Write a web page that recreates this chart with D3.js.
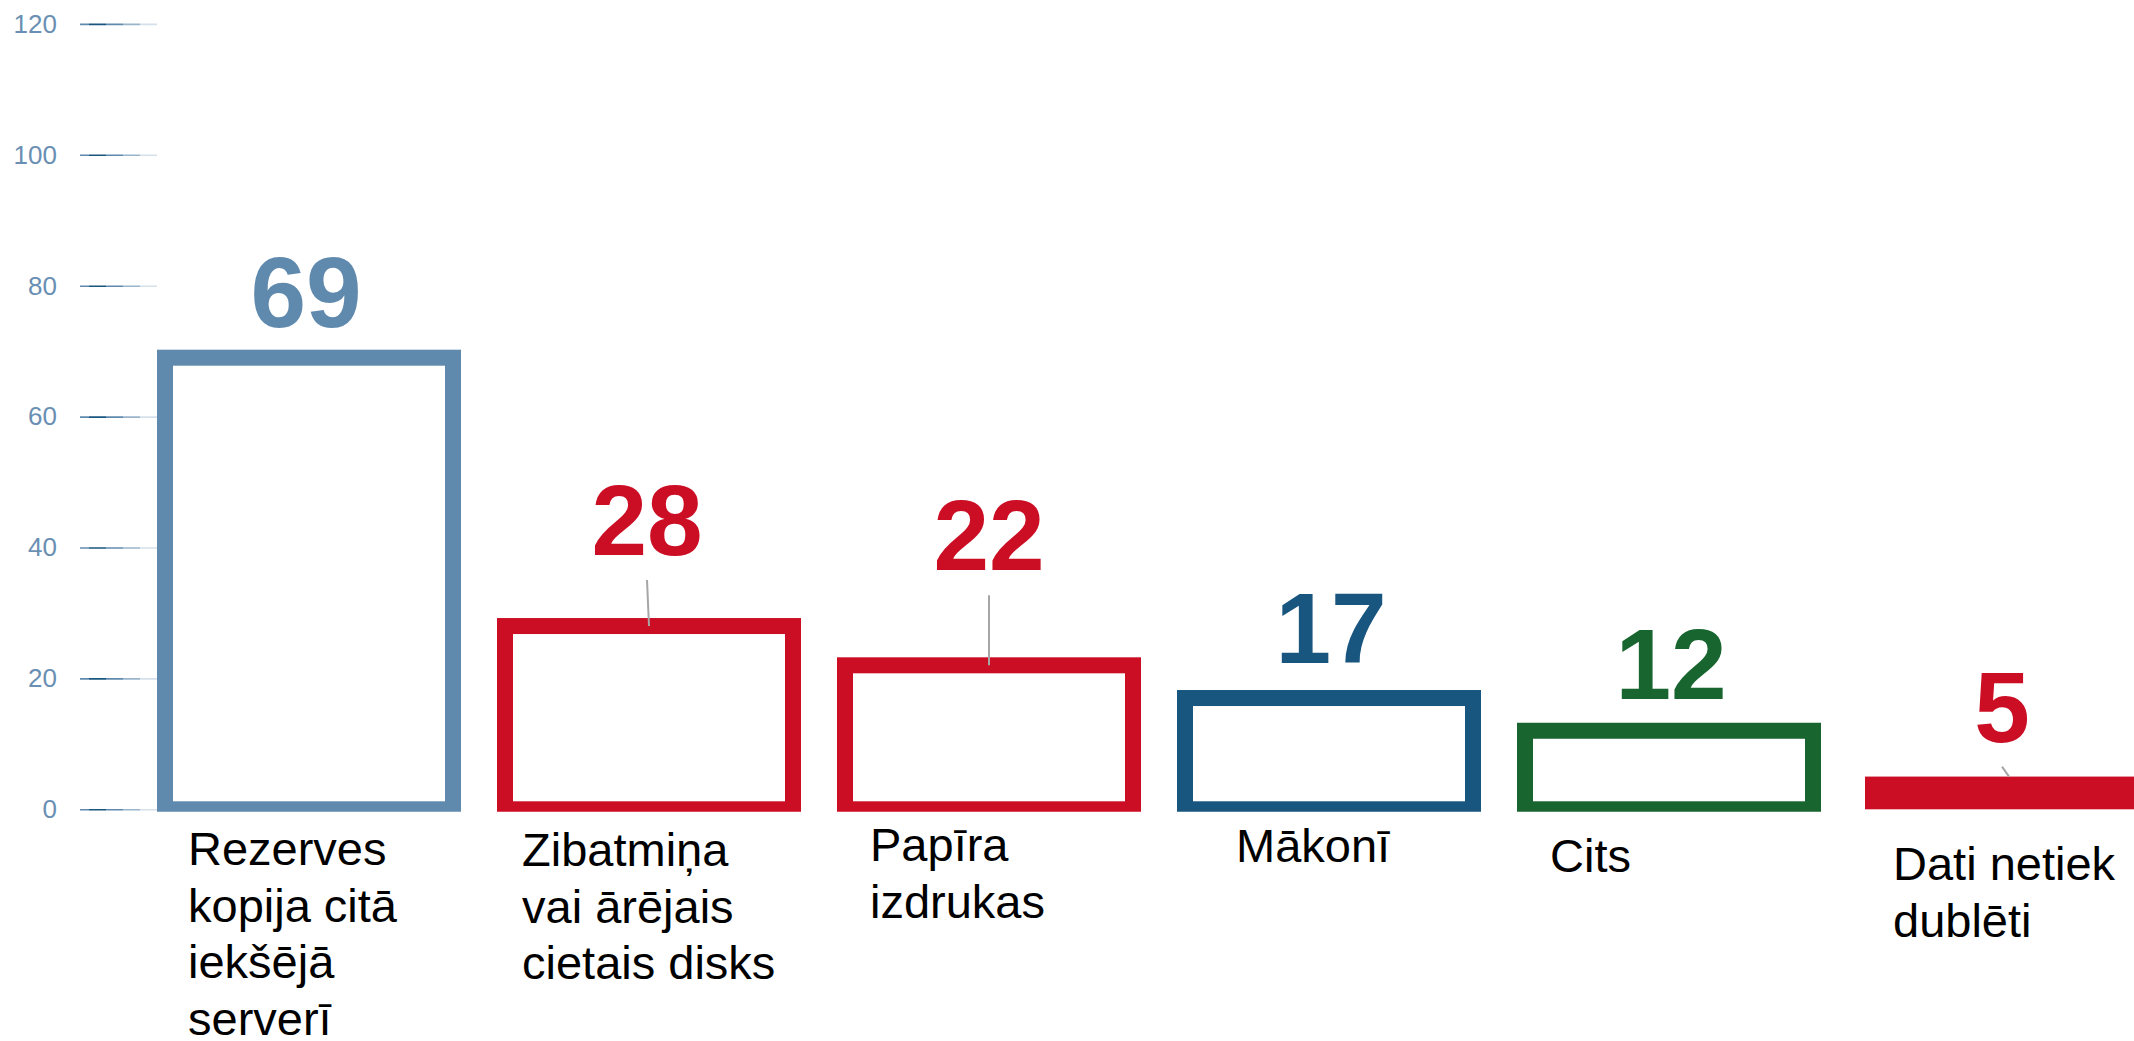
<!DOCTYPE html>
<html>
<head>
<meta charset="utf-8">
<script src="https://cdn.jsdelivr.net/npm/d3@7"></script>
<style>
  body { margin: 0; background: #fff; }
  text { font-family: "Liberation Sans", Arial, sans-serif; }
</style>
</head>
<body>
<svg id="chart"></svg>
<script>
// data
const categories = [
    "Rezerves\nkopija citā\niekšējā\nserverī",
    "Zibatmiņa\nvai ārējais\ncietais disks",
    "Papīra\nizdrukas",
    "Mākonī",
    "Cits",
    "Dati netiek\ndublēti"
];
const values = [69, 28, 22, 17, 12, 5];
const yTicks = [0, 20, 40, 60, 80, 100, 120];

// styles / hand placed label nudges
const barColors = ["#5f8aae", "#cc0e25", "#cc0e25", "#18557f", "#186530", "#cc0e25"];
const valueNudge = [[-3, -31], [-2, -71], [0, -95], [2, -35], [2, -32], [-7, -35]];
const hasLeader = [false, true, true, false, false, true];
const catNudge = [[23, 56], [17, 57], [25, 52], [51, 53], [25, 63], [28, 71]];

let width = 2134,
    height = 1041,
    sw = 16;

let svg = d3.select("#chart")
    .attr("width", width)
    .attr("height", height);

let x = d3.scaleBand()
    .domain(categories)
    .range([165, 2153])
    .paddingInner(52 / 340)
    .paddingOuter(0);

let y = d3.scaleLinear()
    .domain([0, 120])
    .range([809.3, 23.9]);

let defs = svg.append("defs");

// tick lines fade light-dark-light
let grad = defs.append("linearGradient")
    .attr("id", "tickGrad")
    .attr("gradientUnits", "userSpaceOnUse")
    .attr("x1", -77).attr("x2", 0)
    .attr("y1", 0).attr("y2", 0);
[[0, "#5f8aae"], [0.12, "#5f8aae"], [0.12, "#18557f"], [0.34, "#18557f"], [0.34, "#5f8aae"],
 [0.56, "#5f8aae"], [0.56, "#9ab5cb"], [0.78, "#9ab5cb"], [0.78, "#d5e0ea"], [1, "#d5e0ea"]]
    .forEach(s => grad.append("stop").attr("offset", s[0]).attr("stop-color", s[1]));

defs.append("clipPath")
    .attr("id", "plotClip")
    .append("rect")
    .attr("x", 0).attr("y", 0)
    .attr("width", width)
    .attr("height", y(0) + 2.5);

// y axis
let yAxis = svg.append("g")
    .attr("transform", "translate(157,0)")
    .call(d3.axisLeft(y).tickValues(yTicks).tickSize(77).tickPadding(23));
yAxis.select(".domain").remove();
yAxis.selectAll(".tick line")
    .attr("stroke", "url(#tickGrad)")
    .attr("stroke-width", 1.6);
yAxis.selectAll(".tick text")
    .attr("fill", "#6a8fb3")
    .style("font-size", "26px")
    .style("font-family", "'Liberation Sans', Arial, sans-serif");

// bars
let rows = categories.map((c, i) => ({cat: c, value: values[i], i: i}));

svg.append("g")
    .attr("clip-path", "url(#plotClip)")
    .selectAll(".bar")
    .data(rows)
    .enter()
    .append("rect")
    .classed("bar", true)
    .attr("x", d => x(d.cat))
    .attr("y", d => y(d.value))
    .attr("width", x.bandwidth())
    .attr("height", d => y(0) - y(d.value))
    .attr("fill", d => (y(0) - y(d.value) < 3 * sw) ? barColors[d.i] : "#fff")
    .attr("stroke", d => (y(0) - y(d.value) < 3 * sw) ? "none" : barColors[d.i])
    .attr("stroke-width", sw);

// leader lines
svg.selectAll(".leader")
    .data(rows.filter(d => hasLeader[d.i]))
    .enter()
    .append("line")
    .classed("leader", true)
    .attr("x1", d => x(d.cat) + x.bandwidth() / 2 + valueNudge[d.i][0])
    .attr("y1", d => y(d.value) + valueNudge[d.i][1] + 25)
    .attr("x2", d => x(d.cat) + x.bandwidth() / 2)
    .attr("y2", d => y(d.value))
    .attr("stroke", "#a6a6a6")
    .attr("stroke-width", 2);

// value labels
svg.selectAll(".value_label")
    .data(rows)
    .enter()
    .append("text")
    .classed("value_label", true)
    .attr("x", d => x(d.cat) + x.bandwidth() / 2 + valueNudge[d.i][0])
    .attr("y", d => y(d.value) + valueNudge[d.i][1])
    .style("text-anchor", "middle")
    .style("font-size", "100px")
    .style("font-weight", "bold")
    .attr("fill", d => barColors[d.i])
    .text(d => d.value);

// category labels
let cat = svg.selectAll(".cat_label")
    .data(rows)
    .enter()
    .append("text")
    .classed("cat_label", true)
    .attr("x", d => x(d.cat) + catNudge[d.i][0])
    .attr("y", d => y(0) + catNudge[d.i][1])
    .style("font-size", "47px")
    .attr("fill", "#000");

cat.selectAll("tspan")
    .data(d => d.cat.split("\n").map(t => ({t: t, x: x(d.cat) + catNudge[d.i][0]})))
    .enter()
    .append("tspan")
    .attr("x", d => d.x)
    .attr("dy", (d, j) => j === 0 ? 0 : 56.5)
    .text(d => d.t);
</script>
</body>
</html>
